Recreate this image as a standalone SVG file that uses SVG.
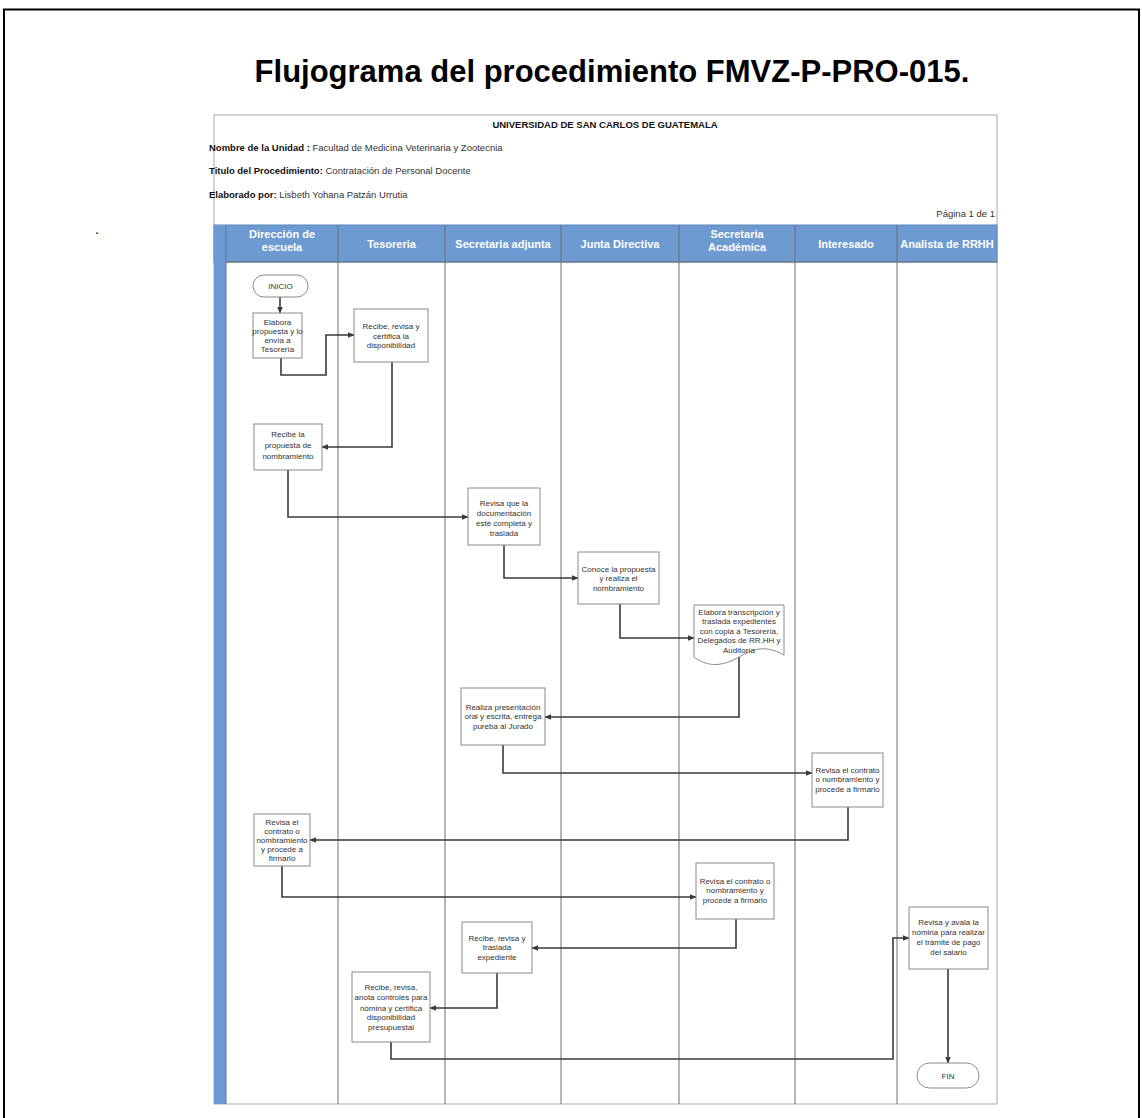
<svg xmlns="http://www.w3.org/2000/svg" width="1142" height="1118" viewBox="0 0 1142 1118">
  <style>
    .ttl{font-family:"Liberation Sans",Arial,sans-serif;font-weight:bold;font-size:31px;fill:#000}
    .hd{font-family:"Liberation Sans",Arial,sans-serif;font-size:9.5px;fill:#333}
    .hdb{font-weight:bold;fill:#111}
    .lane{font-family:"Liberation Sans",Arial,sans-serif;font-weight:bold;font-size:11px;fill:#fff;text-anchor:middle}
    .box{fill:#fff;stroke:#8a8a8a;stroke-width:1}
    .txt{font-family:"Liberation Sans",Arial,sans-serif;font-size:8px;fill:#333;text-anchor:middle}
    .sep{stroke:#6e6e6e;stroke-width:1}
    .con{fill:none;stroke:#3a3a3a;stroke-width:1.6}
  </style>
  <defs>
    <marker id="arr" viewBox="0 0 10 10" refX="9" refY="5" markerWidth="7" markerHeight="7" markerUnits="userSpaceOnUse" orient="auto">
      <path d="M0,1 L10,5 L0,9 Z" fill="#3a3a3a"/>
    </marker>
  </defs>

  <rect width="1142" height="1118" fill="#fff"/>
  <!-- page frame -->
  <rect x="4" y="9.5" width="1135" height="1130" fill="none" stroke="#000" stroke-width="2"/>
  <text class="ttl" x="612" y="82" text-anchor="middle">Flujograma del procedimiento FMVZ-P-PRO-015.</text>
  <text x="95" y="234" font-family="Liberation Sans, Arial, sans-serif" font-size="14" fill="#000">.</text>

  <!-- sheet header -->
  <g id="sheet">
    <rect x="214" y="115" width="783" height="989" fill="#fff" stroke="#a8a8a8" stroke-width="1"/>
    <text class="hd hdb" x="605" y="128" text-anchor="middle" font-size="10.3">UNIVERSIDAD DE SAN CARLOS DE GUATEMALA</text>
    <text class="hd" x="209" y="150.5"><tspan class="hdb">Nombre de la Unidad :</tspan> Facultad de Medicina Veterinaria y Zootecnia</text>
    <text class="hd" x="209" y="173.5"><tspan class="hdb">Titulo del Procedimiento:</tspan>  Contratación de Personal Docente</text>
    <text class="hd" x="209" y="197.5"><tspan class="hdb">Elaborado por:</tspan> Lisbeth Yohana Patzán Urrutia</text>
    <text class="hd" x="995" y="216.5" text-anchor="end">Página 1 de 1</text>
  </g>

  <!-- swimlanes -->
  <g id="lanes">
    <rect x="214" y="225" width="783" height="37" fill="#6d9ad0" stroke="#5a84b8" stroke-width="1"/>
    <rect x="214" y="225" width="12" height="879" fill="#6d9ad0"/>
    <line x1="226" y1="225" x2="226" y2="1104" stroke="#4c78ad" stroke-width="1"/>
    <g class="sep">
      <line x1="338" y1="225" x2="338" y2="1104"/>
      <line x1="445" y1="225" x2="445" y2="1104"/>
      <line x1="561" y1="225" x2="561" y2="1104"/>
      <line x1="679" y1="225" x2="679" y2="1104"/>
      <line x1="795" y1="225" x2="795" y2="1104"/>
      <line x1="897" y1="225" x2="897" y2="1104"/>
      <line x1="226" y1="262" x2="997" y2="262"/>
    </g>
    <text class="lane" x="282" y="238">Dirección de</text>
    <text class="lane" x="282" y="251">escuela</text>
    <text class="lane" x="391.5" y="247.5">Tesoreria</text>
    <text class="lane" x="503" y="247.5">Secretaria adjunta</text>
    <text class="lane" x="620" y="247.5">Junta Directiva</text>
    <text class="lane" x="737" y="238">Secretaria</text>
    <text class="lane" x="737" y="251">Académica</text>
    <text class="lane" x="846" y="247.5">Interesado</text>
    <text class="lane" x="947" y="247.5">Analista de RRHH</text>
  </g>

  <!-- connectors -->
  <g id="connectors" class="con" marker-end="url(#arr)">
    <path d="M280,297 V313"/>
    <path d="M281,358 V375 H326 V335 H354"/>
    <path d="M392,362 V447 H322"/>
    <path d="M288,470 V517 H468"/>
    <path d="M504,545 V578 H578"/>
    <path d="M620,604 V638 H694"/>
    <path d="M739,657 V717 H545"/>
    <path d="M503,745 V773 H812"/>
    <path d="M848,807 V840 H310"/>
    <path d="M282,866 V897 H696"/>
    <path d="M736,919 V948 H532"/>
    <path d="M497,973 V1008 H430"/>
    <path d="M391,1042 V1059 H893 V938 H909"/>
    <path d="M948,969 V1063"/>
  </g>

  <!-- nodes -->
  <g id="inicio">
    <rect class="box" x="253" y="275" width="55" height="22" rx="11"/>
    <text class="txt" x="280.5" y="289">INICIO</text>
  </g>
  <g id="elabora-propuesta">
    <rect class="box" x="253" y="313" width="49" height="45"/>
    <text class="txt" font-size="6.5" x="277.5"><tspan x="277.5" y="324.5">Elabora</tspan><tspan x="277.5" y="333.5">propuesta  y lo</tspan><tspan x="277.5" y="342.5">envía a</tspan><tspan x="277.5" y="351.5">Tesorería</tspan></text>
  </g>
  <g id="certifica-disponibilidad">
    <rect class="box" x="354" y="309" width="74" height="53"/>
    <text class="txt" x="391"><tspan x="391" y="329">Recibe, revisa y</tspan><tspan x="391" y="338.5">certifica la</tspan><tspan x="391" y="348">disponibilidad</tspan></text>
  </g>
  <g id="recibe-propuesta">
    <rect class="box" x="254" y="424" width="68" height="46"/>
    <text class="txt" font-size="7.8" x="288"><tspan x="288" y="437">Recibe la</tspan><tspan x="288" y="447.5">propuesta de</tspan><tspan x="288" y="458.5">nombramiento</tspan></text>
  </g>
  <g id="revisa-documentacion">
    <rect class="box" x="468" y="488" width="72" height="57"/>
    <text class="txt" x="504"><tspan x="504" y="506">Revisa que la</tspan><tspan x="504" y="516">documentación</tspan><tspan x="504" y="526">esté completa y</tspan><tspan x="504" y="536">traslada</tspan></text>
  </g>
  <g id="conoce-propuesta">
    <rect class="box" x="578" y="552" width="81" height="52"/>
    <text class="txt" x="618.5"><tspan x="618.5" y="572">Conoce la propuesta</tspan><tspan x="618.5" y="581">y realiza el</tspan><tspan x="618.5" y="591">nombramiento</tspan></text>
  </g>
  <g id="transcripcion">
    <path class="box" d="M694,605 H784 V655 C766,645 754,648 739,657 C723,666 709,668 694,657 Z"/>
    <text class="txt" x="739"><tspan x="739" y="614.5">Elabora transcripción y</tspan><tspan x="739" y="624">traslada expedientes</tspan><tspan x="739" y="633.5">con copia a Tesorería,</tspan><tspan x="739" y="643">Delegados de RR.HH y</tspan><tspan x="739" y="652.5">Auditoría</tspan></text>
  </g>
  <g id="presentacion">
    <rect class="box" x="461" y="688" width="84" height="57"/>
    <text class="txt" x="503"><tspan x="503" y="709.5">Realiza presentación</tspan><tspan x="503" y="719">oral y escrita, entrega</tspan><tspan x="503" y="728.5">pureba al Jurado</tspan></text>
  </g>
  <g id="interesado-firma">
    <rect class="box" x="812" y="753" width="71" height="54"/>
    <text class="txt" x="847.5"><tspan x="847.5" y="772.5">Revisa el contrato</tspan><tspan x="847.5" y="782">o nombramiento y</tspan><tspan x="847.5" y="791.5">procede a firmarlo</tspan></text>
  </g>
  <g id="direccion-firma">
    <rect class="box" x="254" y="814" width="56" height="52"/>
    <text class="txt" font-size="7.6" x="282"><tspan x="282" y="824.5">Revisa el</tspan><tspan x="282" y="833.5">contrato o</tspan><tspan x="282" y="842.5">nombramiento</tspan><tspan x="282" y="852">y procede a</tspan><tspan x="282" y="861">firmarlo</tspan></text>
  </g>
  <g id="academica-firma">
    <rect class="box" x="696" y="863" width="78" height="56"/>
    <text class="txt" x="735"><tspan x="735" y="883.5">Revisa el contrato o</tspan><tspan x="735" y="893">nombramiento y</tspan><tspan x="735" y="902.5">procede a firmarlo</tspan></text>
  </g>
  <g id="traslada-expediente">
    <rect class="box" x="462" y="922" width="70" height="51"/>
    <text class="txt" x="497"><tspan x="497" y="940.5">Recibe, revisa y</tspan><tspan x="497" y="950">traslada</tspan><tspan x="497" y="959.5">expediente</tspan></text>
  </g>
  <g id="controles-nomina">
    <rect class="box" x="352" y="972" width="78" height="70"/>
    <text class="txt" x="391"><tspan x="391" y="989.5">Recibe, revisa,</tspan><tspan x="391" y="1000">anota controles para</tspan><tspan x="391" y="1010.5">nómina y certifica</tspan><tspan x="391" y="1020">disponibilidad</tspan><tspan x="391" y="1029.5">presupuestal</tspan></text>
  </g>
  <g id="avala-nomina">
    <rect class="box" x="909" y="907" width="79" height="62"/>
    <text class="txt" x="948.5"><tspan x="948.5" y="925">Revisa y avala la</tspan><tspan x="948.5" y="935">nómina para realizar</tspan><tspan x="948.5" y="945">el trámite de pago</tspan><tspan x="948.5" y="955">del salario</tspan></text>
  </g>
  <g id="fin">
    <rect class="box" x="917" y="1063" width="62" height="25" rx="12.5"/>
    <text class="txt" x="948" y="1078.5">FIN</text>
  </g>
</svg>
